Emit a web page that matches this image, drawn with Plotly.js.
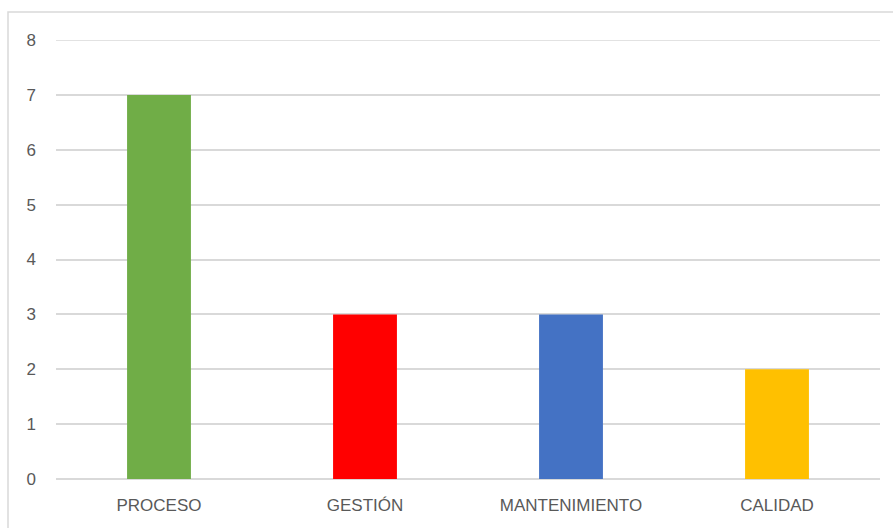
<!DOCTYPE html>
<html><head><meta charset="utf-8">
<script src="https://cdn.plot.ly/plotly-3.0.1.min.js"></script>
<style>html,body{margin:0;padding:0;background:#fff}#chart{width:893px;height:528px}</style>
</head><body><div id="chart"></div>
<script>
const categories = ["PROCESO", "GESTIÓN", "MANTENIMIENTO", "CALIDAD"];
const values = [7, 3, 3, 2];
const colors = ["#70ad47", "#ff0000", "#4472c4", "#ffc000"];
const yTicks = [0, 1, 2, 3, 4, 5, 6, 7, 8];

const L = 56, R = 13, T = 40, B = 49;
const W = 893, H = 528;
const pw = W - L - R, ph = H - T - B;

Plotly.newPlot("chart", [{
  type: "bar",
  x: categories,
  y: values,
  marker: {color: colors},
  hoverinfo: "x+y"
}], {
  width: W, height: H,
  margin: {l: L, r: R, t: T, b: B, pad: 0},
  paper_bgcolor: "#fff", plot_bgcolor: "#fff",
  bargap: 0.69,
  showlegend: false,
  font: {family: "Liberation Sans, Arial, sans-serif", size: 17, color: "#595959"},
  xaxis: {
    showgrid: false, zeroline: false, showline: false, ticks: "",
    ticklabelstandoff: 14,
    tickfont: {size: 17, color: "#595959"}
  },
  yaxis: {
    range: [0, 8], tickvals: yTicks, showgrid: true, gridcolor: "#d9d9d9", gridwidth: 1.5,
    zeroline: true, zerolinecolor: "#d9d9d9", zerolinewidth: 1.5,
    showline: false, ticks: "", ticklabelstandoff: 19,
    tickfont: {size: 17, color: "#595959"}
  },
  shapes: [{
    type: "rect", xref: "paper", yref: "paper",
    x0: (8 - L) / pw, x1: 1 + (R + 20) / pw,
    y0: -(B + 20) / ph, y1: 1 + (T - 12) / ph,
    line: {color: "#d9d9d9", width: 1.5}, fillcolor: "rgba(0,0,0,0)", layer: "below"
  }, {
    type: "line", xref: "paper", yref: "y",
    x0: 0, x1: 1, y0: yTicks[yTicks.length - 1], y1: yTicks[yTicks.length - 1],
    line: {color: "#d9d9d9", width: 1.5}, layer: "below"
  }]
}, {displayModeBar: false});
</script></body></html>
